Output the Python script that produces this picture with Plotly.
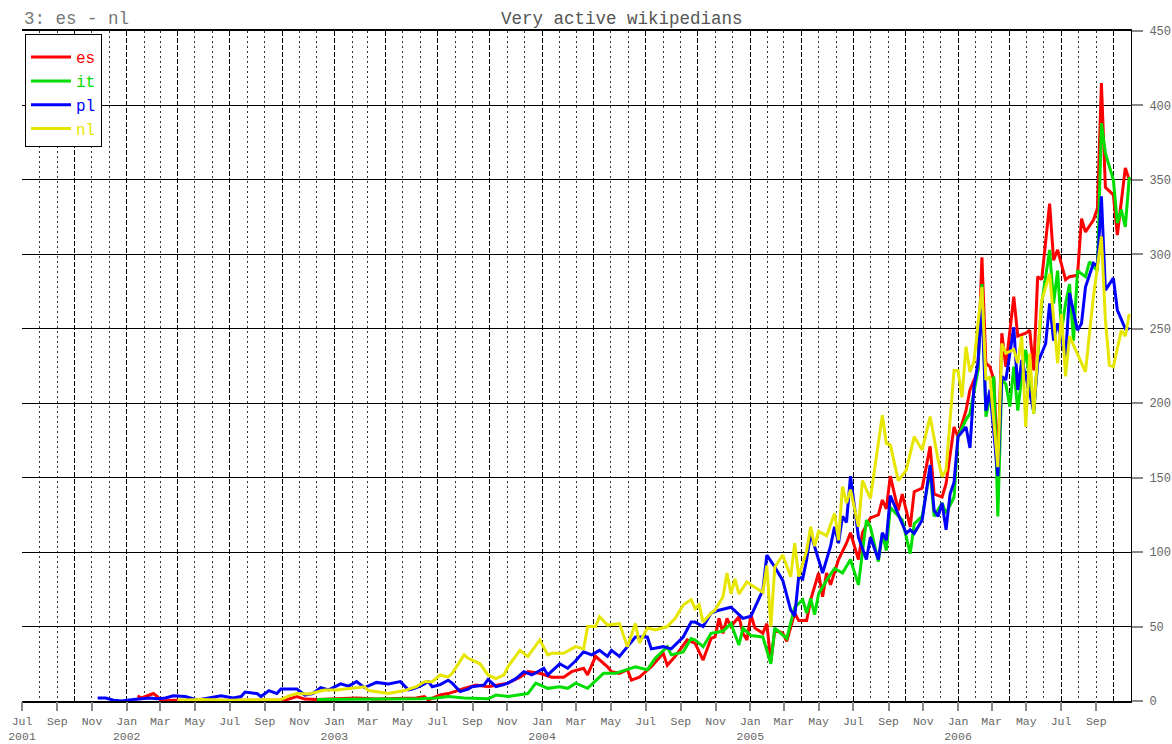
import pandas as pd
import plotly.graph_objects as go

START = "2001-07-01"
END = "2006-11-01"

# weeks since 2001-07-01 and number of very active wikipedians
es_week = [29, 30, 33, 34, 35, 38, 45, 52, 60, 66,
           69, 71, 74, 79, 84, 89, 95, 99, 101, 102,
           105, 107, 111, 114, 117, 119, 122, 125, 127, 130,
           133, 136, 138, 141, 142, 144, 147, 148, 150, 152,
           153, 155, 157, 158, 161, 162, 164, 167, 169, 171,
           173, 174, 175, 176, 177, 178, 180, 181, 182, 183,
           184, 186, 187, 188, 189, 191, 192, 194, 195, 197,
           198, 200, 201, 202, 203, 205, 207, 208, 210, 211,
           213, 215, 216, 217, 218, 220, 221, 223, 224, 226,
           228, 229, 231, 232, 234, 235, 237, 238, 240, 241,
           242, 243, 244, 245, 246, 247, 249, 250, 252, 253,
           254, 255, 256, 258, 259, 260, 262, 263, 265, 266,
           267, 269, 270, 271, 272, 274, 275, 277, 278]
es_val = [3.4, 2, 5, 3, 0, 0.5, 0.3, 0.5, 0.3, 0.5,
          3, 1.3, 1, 1.5, 2, 1.3, 1.5, 2, 3, 0.7,
          4, 5, 8.5, 10.7, 9.6, 10.7, 12, 16, 19.7, 18.6,
          16, 16, 19.7, 22, 17.5, 30, 23, 19.7, 18.6, 21,
          14, 16, 21, 23, 32, 24, 30, 41, 38.7, 27.5,
          42, 43, 55.5, 45.5, 55.5, 50, 56.6, 45.5, 41, 58,
          49, 45.5, 52, 26.4, 47.7, 45.5, 40, 59, 54, 54,
          68, 86, 70, 86, 78, 95, 106, 113, 95, 113,
          123, 125, 135, 129, 151, 128, 139, 117, 140.6, 143,
          171, 139, 137, 146, 184, 177.5, 195, 209, 222, 298,
          227, 224.5, 215.6, 157, 247, 224.5, 271.5, 245, 247, 249,
          222, 285, 283, 334, 296, 303, 283, 285, 286, 324,
          315, 323, 331, 415, 345, 340, 313, 358, 350]

it_week = [74, 80, 85, 90, 95, 100, 104, 107, 111, 114,
           117, 119, 122, 127, 129, 132, 135, 137, 139, 142,
           146, 149, 152, 154, 157, 159, 162, 163, 166, 168,
           169, 171, 173, 176, 178, 180, 181, 183, 186, 188,
           189, 192, 194, 196, 197, 198, 199, 200, 202, 204,
           206, 208, 210, 212, 213, 215, 216, 217, 218, 221,
           223, 224, 226, 228, 229, 231, 232, 234, 235, 237,
           238, 240, 241, 242, 243, 244, 245, 246, 247, 248,
           249, 250, 251, 252, 254, 255, 256, 258, 259, 260,
           261, 262, 263, 264, 265, 267, 268, 270, 271, 272,
           274, 275, 276, 277, 278]
it_val = [1, 1, 1.5, 1, 1, 1.5, 2, 3, 2, 2,
          1.5, 4, 3, 5, 12, 8.5, 9.6, 8.5, 12, 8.5,
          18.6, 18.6, 21, 23, 21, 28.7, 36.5, 31, 33, 42,
          41, 36.5, 45.5, 47, 52, 37.6, 49, 44, 43, 25,
          49, 42, 63, 68, 59, 69, 58, 72, 81, 89,
          86, 95, 78, 121.5, 117, 93.6, 112.6, 101, 130, 121.5,
          99, 119, 124, 155, 124, 133, 126, 137, 177.5, 189,
          193, 222, 280, 191, 204, 218, 124, 215.6, 213, 197.7,
          224.5, 195, 218, 236, 193, 227, 267, 303, 267, 289,
          249, 267, 280, 242, 289, 285, 295, 289, 388, 368,
          350, 321, 330, 318.5, 352]

pl_week = [19, 21, 23, 25, 28, 30, 32, 34, 36, 38,
           40, 41, 44, 46, 49, 50, 53, 55, 56, 59,
           60, 62, 64, 65, 69, 71, 73, 75, 77, 80,
           82, 84, 86, 89, 92, 95, 97, 98, 100, 102,
           103, 105, 107, 108, 110, 112, 113, 115, 116, 117,
           119, 121, 122, 124, 126, 128, 131, 132, 135, 137,
           139, 141, 143, 145, 147, 148, 150, 152, 154, 157,
           158, 161, 163, 166, 168, 169, 171, 173, 175, 178,
           181, 183, 184, 186, 187, 189, 191, 193, 194, 195,
           196, 197, 198, 199, 201, 203, 204, 205, 206, 207,
           208, 210, 212, 213, 215, 216, 217, 218, 221, 222,
           223, 224, 226, 228, 229, 230, 231, 232, 233, 234,
           235, 237, 238, 239, 240, 241, 242, 243, 245, 246,
           247, 249, 250, 251, 252, 254, 255, 257, 258, 259,
           260, 262, 263, 265, 266, 267, 269, 270, 271, 272,
           274, 275, 277, 278]
pl_val = [2, 2, 0.5, 0, 1, 1.5, 2, 1.5, 2, 3.5,
          3, 3, 0.7, 1.5, 3, 3.5, 2, 3, 6, 5,
          3, 7, 5, 8, 8, 4, 5, 9, 7.5, 11.5,
          10, 13, 9, 12.5, 11.5, 13, 7.5, 8, 10, 13,
          9.6, 11, 14, 12, 6.3, 8, 9.6, 10, 10.7, 14.5,
          9.6, 11, 12, 15, 19.7, 17.5, 22, 17.5, 25, 22,
          27, 33, 31, 34, 30, 34, 30, 36.5, 43, 43,
          35, 36.5, 35, 43, 53, 53, 50, 59, 61, 63,
          55.5, 57, 63, 74.5, 98, 90, 81, 61, 57, 83.5,
          82, 95, 112.6, 104, 86, 104, 117, 106, 124, 120,
          151, 110, 95, 110, 95, 113, 108, 138, 118, 112.6,
          115, 112.6, 121.5, 158.5, 128, 124, 133, 115, 139, 147,
          177.5, 184, 170, 211, 227, 267, 195, 209, 151, 218,
          215.6, 251, 209, 229, 218, 195, 227, 240, 267, 242,
          253.6, 231, 274, 249, 253.6, 278, 294, 292, 339, 276,
          284, 262.6, 250, 250]

nl_week = [39, 45, 52, 60, 65, 67, 69, 72, 76, 79,
           82, 86, 87, 90, 92, 96, 99, 101, 103, 105,
           107, 108, 111, 112, 115, 117, 119, 121, 122, 125,
           127, 130, 132, 133, 136, 139, 141, 142, 144, 145,
           147, 150, 152, 154, 155, 157, 159, 162, 164, 166,
           168, 169, 170, 171, 173, 174, 176, 177, 178, 179,
           180, 182, 183, 186, 187, 188, 189, 191, 193, 194,
           195, 197, 198, 199, 200, 202, 204, 205, 206, 207,
           208, 210, 211, 213, 216, 217, 218, 220, 222, 224,
           226, 228, 230, 231, 232, 234, 235, 236, 237, 238,
           239, 241, 242, 243, 245, 246, 247, 249, 250, 251,
           252, 253, 254, 255, 256, 258, 260, 261, 262, 263,
           265, 267, 268, 269, 271, 272, 273, 274, 276, 277,
           278]
nl_val = [0.5, 1, 0.5, 1, 1, 3.5, 5, 4.7, 7.4, 7.4,
          8.5, 9.6, 7, 5.6, 5, 7, 9.6, 13, 13, 17.5,
          16, 18.6, 31, 28.7, 25, 17.5, 15, 17.5, 23, 34,
          30, 41, 31, 32, 32, 36.5, 35, 50, 50, 56.6,
          51, 52, 36.5, 52, 39, 49, 47.7, 50, 55.5, 64.5,
          68, 62, 64.5, 53, 59, 61, 70, 86, 72, 82,
          72, 80, 78, 73, 91, 50, 90, 98, 83.5, 106,
          83.5, 101, 117, 104, 114, 111, 126, 108, 144, 133,
          142, 117, 148, 136, 192, 173, 172, 148, 155, 177.5,
          168.6, 191, 162, 150.7, 155, 222, 222, 204, 238, 221,
          228, 278, 215.6, 218, 157, 240, 233.5, 236, 227, 245,
          184, 233.5, 193, 233.5, 269, 287, 227, 260, 218, 245,
          233.5, 221, 247, 271.5, 312, 256, 225.6, 224.5, 249, 245,
          260]

series_names = ["es", "it", "pl", "nl"]
series_colors = ["#ff0000", "#00dd00", "#0000ff", "#e6e600"]
series_weeks = [es_week, it_week, pl_week, nl_week]
series_vals = [es_val, it_val, pl_val, nl_val]

y_ticks = [0, 50, 100, 150, 200, 250, 300, 350, 400, 450]
tick_dates = pd.date_range(START, "2006-09-01", freq="2MS")
tick_text = [d.strftime("%b") + ("<br>%d" % d.year if (d.month == 1 or i == 0) else "")
             for i, d in enumerate(tick_dates)]

MONO = "Liberation Mono"


def to_dates(weeks):
    return pd.Timestamp(START) + pd.to_timedelta([7 * w for w in weeks], unit="D")


fig = go.Figure()
for name, color, wk, val in zip(series_names, series_colors, series_weeks, series_vals):
    fig.add_trace(go.Scatter(
        x=to_dates(wk), y=val, mode="lines",
        name='<span style="color:%s">%s</span>' % (color, name),
        line=dict(color=color, width=3),
    ))

# invisible helper trace so the labelled overlay axis is drawn
fig.add_trace(go.Scatter(x=[START, END], y=[None, None], xaxis="x2", yaxis="y",
                         mode="lines", showlegend=False, hoverinfo="skip"))

fig.update_layout(
    width=1172, height=744,
    margin=dict(l=22, r=41, t=31, b=43, autoexpand=False),
    paper_bgcolor="white", plot_bgcolor="white",
    font=dict(family=MONO, color="#666"),
    showlegend=True,
    legend=dict(x=0.0027, y=0.9955, xanchor="left", yanchor="top",
                bgcolor="white", bordercolor="#000", borderwidth=1,
                font=dict(family=MONO, size=16), itemwidth=40,
                title=dict(text=" ", font=dict(size=4))),
    xaxis=dict(type="date", range=[START, END], tick0=START, dtick="M3",
               showgrid=True, gridcolor="#000", gridwidth=1, griddash="5px,2px",
               minor=dict(tick0=START, dtick="M1", showgrid=True, gridcolor="#333",
                          gridwidth=1, griddash="2px,3px"),
               showticklabels=False, ticks="", zeroline=False, automargin=False,
               showline=True, linecolor="#000", linewidth=2, mirror=True),
    xaxis2=dict(type="date", range=[START, END], overlaying="x", anchor="y", side="bottom",
                tickmode="array", tickvals=tick_dates, ticktext=tick_text,
                ticks="outside", ticklen=9, tickwidth=2, tickcolor="#888",
                ticklabeloverflow="allow",
                showgrid=False, zeroline=False, showline=False, automargin=False,
                tickfont=dict(family=MONO, size=11.5, color="#666")),
    yaxis=dict(range=[0, 450], side="right", tickmode="array", tickvals=y_ticks,
               showgrid=True, gridcolor="#000", gridwidth=1, zeroline=False,
               ticks="outside", ticklen=11, tickwidth=2, tickcolor="#888",
               showline=True, linecolor="#000", linewidth=1, automargin=False,
               ticklabelstandoff=4, ticklabeloverflow="allow",
               tickfont=dict(family=MONO, size=12, color="#666")),
    annotations=[
        dict(text="Very active wikipedians", xref="paper", yref="paper",
             x=0.541, y=1.018, xanchor="center", yanchor="middle", showarrow=False,
             font=dict(family=MONO, size=17.5, color="#555")),
        dict(text="3: es - nl", xref="paper", yref="paper",
             x=0.0, y=1.018, xanchor="left", yanchor="middle", showarrow=False,
             font=dict(family=MONO, size=17.5, color="#777")),
    ],
)

# the page body margin would push the 1172x744 figure out of the window
fig.write_html("out.html",
               config={"displayModeBar": False},
               post_script="document.body.style.margin='0';"
                           "document.body.style.overflow='hidden';")
